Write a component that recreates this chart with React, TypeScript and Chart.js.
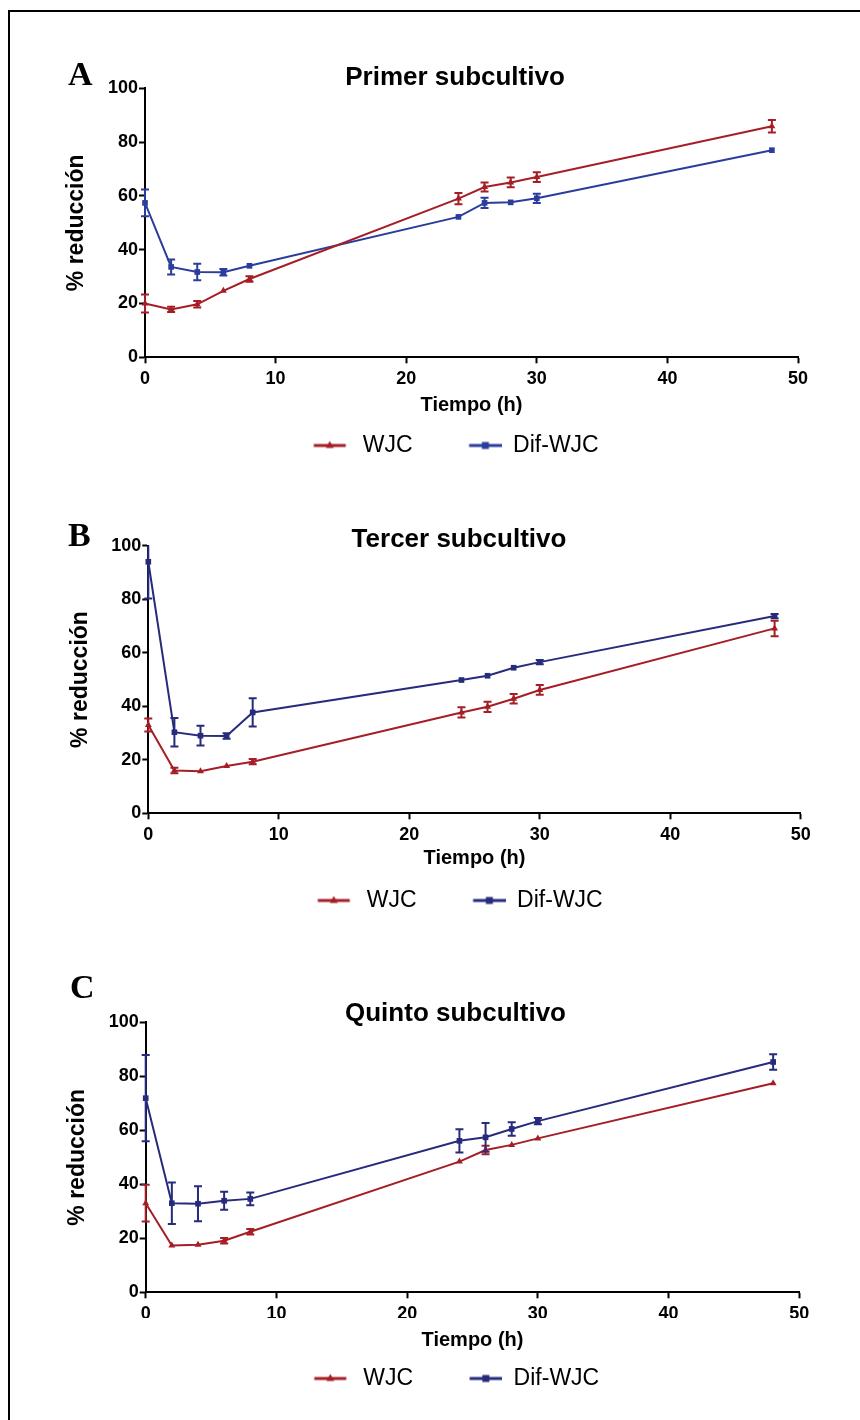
import React, { useEffect, useRef } from 'react';
import { Chart, registerables } from 'chart.js';

Chart.register(...registerables);

// ---- data ----
const times = [0, 2, 4, 6, 8, 24, 26, 28, 30, 48];
const xTickValues = [0, 10, 20, 30, 40, 50];
const yTickValues = [0, 20, 40, 60, 80, 100];
const seriesNames = ['WJC', 'Dif-WJC'];
const panelLetters = ['A', 'B', 'C'];
const panelTitles = ['Primer subcultivo', 'Tercer subcultivo', 'Quinto subcultivo'];
const xAxisTitle = 'Tiempo (h)';
const yAxisTitle = '% reducción';

const wjcA = [20.0, 17.8, 19.7, 24.7, 29.1, 59.0, 63.3, 65.0, 67.0, 85.9];
const wjcAErr = [3.3, 1.0, 1.2, 0, 1.0, 2.1, 1.7, 1.8, 1.8, 2.3];
const difA = [57.4, 33.6, 31.7, 31.6, 34.0, 52.2, 57.4, 57.6, 59.1, 77.0];
const difAErr = [5.0, 2.8, 3.1, 1.2, 0, 0, 1.9, 0, 1.7, 0];

const wjcB = [33.0, 16.0, 15.7, 17.7, 19.3, 37.7, 39.8, 42.8, 46.1, 69.1];
const wjcBErr = [2.4, 1.0, 0, 0, 1.0, 1.9, 1.9, 1.8, 1.8, 2.9];
const difB = [94.0, 30.3, 29.0, 28.9, 37.7, 49.8, 51.4, 54.4, 56.5, 73.7];
const difBErr = [13.7, 5.3, 3.7, 1.0, 5.3, 0, 0, 0, 0.8, 0.8];

const wjcC = [33.0, 17.3, 17.6, 19.1, 22.4, 48.4, 52.7, 54.6, 57.0, 77.4];
const wjcCErr = [6.8, 0, 0, 1.0, 1.0, 0, 1.6, 0, 0, 0];
const difC = [71.9, 33.0, 32.8, 33.9, 34.6, 56.1, 57.4, 60.5, 63.4, 85.3];
const difCErr = [16.0, 7.7, 6.5, 3.3, 2.4, 4.3, 5.3, 2.5, 1.2, 2.9];

// ---- styles ----
const RED = '#A51E26';
const BLUE_A = '#2B3D9C';
const BLUE_BC = '#272B7C';
const SANS = '"Liberation Sans", Arial, Helvetica, sans-serif';

const panels = [
  { letter: panelLetters[0], title: panelTitles[0], wjc: wjcA, wjcErr: wjcAErr, dif: difA, difErr: difAErr, blue: BLUE_A },
  { letter: panelLetters[1], title: panelTitles[1], wjc: wjcB, wjcErr: wjcBErr, dif: difB, difErr: difBErr, blue: BLUE_BC },
  { letter: panelLetters[2], title: panelTitles[2], wjc: wjcC, wjcErr: wjcCErr, dif: difC, difErr: difCErr, blue: BLUE_BC },
];

const layouts = [
  { top: 12, height: 455, padLeft: 40, yW: 95, rightW: 62, yTitlePad: 13.2, titlePt: 55.9, titlePb: -0.4, xH: 27.7, xTitlePb: -32, letterTop: 57, letterLeft: 68 },
  { top: 470, height: 452, padLeft: 48, yW: 90.3, rightW: 59.3, yTitlePad: 9.2, titlePt: 59.1, titlePb: -4.2, xH: 26.7, xTitlePb: -30, letterTop: 518, letterLeft: 68 },
  { top: 930, height: 470, padLeft: 41, yW: 94.7, rightW: 60.7, yTitlePad: 12.9, titlePt: 73.6, titlePb: -2.1, xH: 25.7, xTitlePb: -34, letterTop: 970, letterLeft: 70 },
];

function makeIcon(kind: 'tri' | 'sq', color: string): HTMLCanvasElement {
  const c = document.createElement('canvas');
  c.width = 40;
  c.height = 12;
  const g = c.getContext('2d')!;
  g.strokeStyle = color;
  g.fillStyle = color;
  g.lineWidth = 3;
  const x0 = kind === 'tri' ? 2.5 : 7.5;
  const x1 = kind === 'tri' ? 34.5 : 40;
  const cx = (x0 + x1) / 2;
  g.beginPath();
  g.moveTo(x0, 6);
  g.lineTo(x1, 6);
  g.stroke();
  g.beginPath();
  if (kind === 'tri') {
    g.moveTo(cx, 1.5);
    g.lineTo(cx + 4, 8.5);
    g.lineTo(cx - 4, 8.5);
    g.closePath();
    g.fill();
  } else {
    g.fillRect(cx - 3.5, 2.5, 7, 7);
  }
  return c;
}

const errorBarsPlugin = {
  id: 'errorBars',
  afterDatasetsDraw(chart: any) {
    const { ctx, chartArea, scales } = chart;
    const xs = scales.x;
    const ys = scales.y;
    chart.data.datasets.forEach((ds: any) => {
      const errs: number[] = ds.errors || [];
      ctx.save();
      ctx.strokeStyle = ds.borderColor;
      ctx.lineWidth = 2;
      ds.data.forEach((pt: any, j: number) => {
        const e = errs[j];
        if (!e) return;
        const px = xs.getPixelForValue(pt.x);
        const rawTop = ys.getPixelForValue(pt.y + e);
        const rawBot = ys.getPixelForValue(pt.y - e);
        const top = Math.max(rawTop, chartArea.top);
        const bot = Math.min(rawBot, chartArea.bottom);
        ctx.beginPath();
        ctx.moveTo(px, top);
        ctx.lineTo(px, bot);
        if (rawTop >= chartArea.top) {
          ctx.moveTo(px - 4, top);
          ctx.lineTo(px + 4, top);
        }
        if (rawBot <= chartArea.bottom) {
          ctx.moveTo(px - 4, bot);
          ctx.lineTo(px + 4, bot);
        }
        ctx.stroke();
      });
      ctx.restore();
    });
  },
};

function Panel({ idx }: { idx: number }) {
  const ref = useRef<HTMLCanvasElement | null>(null);
  const p = panels[idx];
  const L = layouts[idx];

  useEffect(() => {
    if (!ref.current) return;
    const icons = [makeIcon('tri', RED), makeIcon('sq', p.blue)];
    const toPts = (vals: number[]) => times.map((t, i) => ({ x: t, y: vals[i] }));
    const chart = new Chart(ref.current, {
      type: 'line',
      data: {
        datasets: [
          {
            label: seriesNames[0],
            data: toPts(p.wjc),
            errors: p.wjcErr,
            borderColor: RED,
            backgroundColor: RED,
            borderWidth: 2,
            pointStyle: 'triangle',
            pointRadius: 4,
            pointBorderWidth: 0,
            tension: 0,
            clip: false,
          } as any,
          {
            label: seriesNames[1],
            data: toPts(p.dif),
            errors: p.difErr,
            borderColor: p.blue,
            backgroundColor: p.blue,
            borderWidth: 2,
            pointStyle: 'rect',
            pointRadius: 4,
            pointBorderWidth: 0,
            tension: 0,
            clip: false,
          } as any,
        ],
      },
      options: {
        responsive: false,
        animation: false,
        events: [],
        layout: { padding: { left: L.padLeft, right: 0, top: 0, bottom: 0 } },
        scales: {
          x: {
            type: 'linear',
            min: 0,
            max: 50,
            afterBuildTicks: (s: any) => { s.ticks = xTickValues.map((v) => ({ value: v })); },
            afterFit: (s: any) => { s.height = L.xH; },
            grid: { drawOnChartArea: false, drawTicks: true, tickLength: 6, tickWidth: 2, color: '#000' },
            border: { display: true, color: '#000', width: 2 },
            ticks: { color: '#000', padding: 5, font: { family: SANS, size: 18, weight: 'bold' } },
            title: {
              display: true,
              text: xAxisTitle,
              color: '#000',
              font: { family: SANS, size: 20, weight: 'bold' },
              padding: { top: 0, bottom: L.xTitlePb },
            },
          },
          y: {
            type: 'linear',
            position: 'left',
            min: 0,
            max: 100,
            afterBuildTicks: (s: any) => { s.ticks = yTickValues.map((v) => ({ value: v })); },
            afterFit: (s: any) => { s.width = L.yW; },
            grid: { drawOnChartArea: false, drawTicks: true, tickLength: 6, tickWidth: 2, color: '#000' },
            border: { display: true, color: '#000', width: 2 },
            ticks: { color: '#000', padding: 1, font: { family: SANS, size: 18, weight: 'bold' } },
            title: {
              display: true,
              text: yAxisTitle,
              color: '#000',
              font: { family: SANS, size: 23, weight: 'bold' },
              padding: { top: L.yTitlePad, bottom: 0 },
            },
          },
          yRight: {
            type: 'linear',
            position: 'right',
            display: true,
            min: 0,
            max: 1,
            afterFit: (s: any) => { s.width = L.rightW; },
            grid: { display: false },
            border: { display: false },
            ticks: { display: false },
          },
        },
        plugins: {
          title: {
            display: true,
            text: p.title,
            color: '#000',
            font: { family: SANS, size: 26, weight: 'bold', lineHeight: 0.8 },
            padding: { top: L.titlePt, bottom: L.titlePb },
          },
          legend: {
            display: true,
            position: 'bottom',
            labels: {
              usePointStyle: true,
              pointStyleWidth: 40,
              padding: 49,
              color: '#000',
              font: { family: SANS, size: 23, weight: 'normal' },
              generateLabels: (ch: any) =>
                ch.data.datasets.map((ds: any, i: number) => ({
                  text: ds.label,
                  pointStyle: icons[i],
                  fillStyle: ds.borderColor,
                  strokeStyle: ds.borderColor,
                  lineWidth: 0,
                  hidden: false,
                  datasetIndex: i,
                  fontColor: '#000',
                })),
            },
          },
          tooltip: { enabled: false },
        },
      } as any,
      plugins: [errorBarsPlugin],
    });
    return () => chart.destroy();
  }, [idx]);

  return (
    <>
      <canvas
        ref={ref}
        width={850}
        height={L.height}
        style={{ position: 'absolute', left: 10, top: L.top, width: 850, height: L.height }}
      />
      <div
        style={{
          position: 'absolute',
          left: L.letterLeft,
          top: L.letterTop,
          fontFamily: '"Liberation Serif", "Times New Roman", serif',
          fontWeight: 'bold',
          fontSize: 34,
          lineHeight: 1,
          color: '#000',
        }}
      >
        {p.letter}
      </div>
    </>
  );
}

export default function App() {
  return (
    <div
      style={{
        position: 'absolute',
        left: 0,
        top: 0,
        width: 860,
        height: 1420,
        overflow: 'hidden',
        background: '#fff',
      }}
    >
      <div
        style={{
          position: 'absolute',
          left: 8,
          top: 10,
          width: 900,
          height: 1500,
          border: '2px solid #000',
          boxSizing: 'border-box',
        }}
      />
      {panels.map((_, i) => (
        <Panel key={i} idx={i} />
      ))}
    </div>
  );
}
